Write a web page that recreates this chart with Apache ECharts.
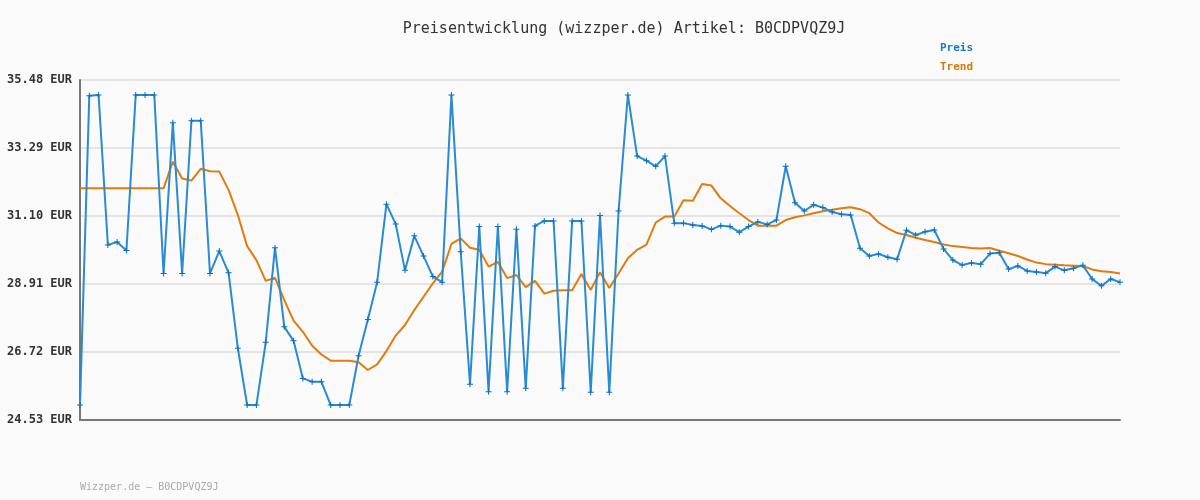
<!DOCTYPE html>
<html>
<head>
<meta charset="utf-8">
<script src="https://cdn.jsdelivr.net/npm/echarts@6/dist/echarts.min.js"></script>
<style>
  html, body { margin: 0; padding: 0; background: #fafafa; }
  #chart { width: 1200px; height: 500px; }
</style>
</head>
<body>
<div id="chart"></div>
<script>
// price per day (no dates shown on the axis)
const preis = [
    25.01, 34.97, 35.00, 30.17, 30.26, 29.99, 35.00, 35.00, 35.00, 29.25,
    34.10, 29.25, 34.17, 34.17, 29.25, 29.97, 29.27, 26.84, 25.01, 25.01,
    27.03, 30.08, 27.53, 27.08, 25.87, 25.76, 25.76, 25.01, 25.01, 25.01,
    26.60, 27.77, 28.97, 31.48, 30.84, 29.35, 30.46, 29.81, 29.15, 28.97,
    35.00, 29.95, 25.68, 30.76, 25.44, 30.76, 25.44, 30.67, 25.55, 30.78,
    30.94, 30.94, 25.55, 30.94, 30.94, 25.42, 31.12, 25.42, 31.26, 35.00,
    33.03, 32.88, 32.70, 33.03, 30.87, 30.87, 30.81, 30.78, 30.67, 30.79,
    30.76, 30.58, 30.76, 30.91, 30.83, 30.97, 32.70, 31.53, 31.26, 31.46,
    31.37, 31.23, 31.16, 31.13, 30.06, 29.81, 29.88, 29.77, 29.71, 30.64,
    30.49, 30.59, 30.65, 30.04, 29.68, 29.52, 29.59, 29.55, 29.89, 29.92,
    29.39, 29.49, 29.33, 29.30, 29.26, 29.47, 29.35, 29.42, 29.51, 29.07,
    28.85, 29.07, 28.97
];

const trend = [
    31.99, 31.99, 31.99, 31.99, 31.99, 31.99, 31.99, 31.99, 31.99, 31.99,
    32.85, 32.31, 32.24, 32.62, 32.54, 32.53, 31.94, 31.13, 30.13, 29.68,
    29.01, 29.11, 28.39, 27.73, 27.37, 26.92, 26.64, 26.44, 26.44, 26.44,
    26.39, 26.14, 26.32, 26.75, 27.25, 27.59, 28.07, 28.50, 28.93, 29.31,
    30.20, 30.38, 30.08, 30.01, 29.47, 29.62, 29.10, 29.20, 28.81, 29.01,
    28.60, 28.69, 28.71, 28.71, 29.23, 28.72, 29.29, 28.78, 29.25, 29.74,
    30.01, 30.18, 30.89, 31.08, 31.08, 31.61, 31.59, 32.13, 32.08, 31.67,
    31.42, 31.19, 30.97, 30.79, 30.79, 30.79, 30.97, 31.06, 31.12, 31.19,
    31.25, 31.30, 31.35, 31.38, 31.32, 31.19, 30.89, 30.70, 30.55, 30.49,
    30.40, 30.33, 30.26, 30.18, 30.13, 30.10, 30.07, 30.05, 30.07, 29.98,
    29.90, 29.81, 29.70, 29.60, 29.55, 29.53, 29.51, 29.50, 29.49, 29.38,
    29.32, 29.30, 29.25
];

const yTicks = [24.53, 26.72, 28.91, 31.10, 33.29, 35.48];

const categories = preis.map(function (v, i) { return i + 1; });

const mono = '"DejaVu Sans Mono", "Liberation Mono", monospace';
const blue = '#1a80cc';
const orange = '#e07b0c';
const plusPath = 'path://M5,0H7V5H12V7H7V12H5V7H0V5H5Z';

const chart = echarts.init(document.getElementById('chart'));
chart.setOption({
    backgroundColor: '#fafafa',
    animation: false,
    title: {
        text: 'Preisentwicklung (wizzper.de) Artikel: B0CDPVQZ9J',
        left: 619,
        textAlign: 'center',
        top: 17,
        textStyle: {
            fontFamily: mono,
            fontSize: 15,
            fontWeight: 'normal',
            color: '#333'
        }
    },
    legend: {
        orient: 'vertical',
        left: 935,
        top: 38,
        itemGap: 8,
        itemWidth: 0,
        itemHeight: 0,
        icon: 'rect',
        selectedMode: false,
        textStyle: { fontFamily: mono, fontSize: 11, fontWeight: 'bold', padding: [0, 0, 0, -5] },
        data: [
            { name: 'Preis', textStyle: { color: '#1a7cc4' } },
            { name: 'Trend', textStyle: { color: '#d97706' } }
        ]
    },
    grid: {
        left: 80,
        right: 80,
        top: 80,
        bottom: 80
    },
    xAxis: {
        type: 'category',
        data: categories,
        boundaryGap: false,
        axisLine: { lineStyle: { color: '#777', width: 2 } },
        axisTick: { show: false },
        axisLabel: { show: false },
        splitLine: { show: false }
    },
    yAxis: {
        type: 'value',
        min: 24.53,
        max: 35.48,
        axisLine: { show: true, lineStyle: { color: '#777', width: 2 } },
        axisTick: { show: false, customValues: yTicks },
        axisLabel: {
            customValues: yTicks,
            margin: 8,
            fontFamily: mono,
            fontSize: 12,
            fontWeight: 'bold',
            color: '#333',
            formatter: function (v) { return v.toFixed(2) + ' EUR'; }
        },
        splitLine: { show: true, lineStyle: { color: '#e4e4e4', width: 2 } }
    },
    series: [
        {
            name: 'Preis',
            type: 'line',
            data: preis,
            color: blue,
            lineStyle: { width: 2, color: '#2a8ad2' },
            symbol: plusPath,
            symbolSize: 6,
            itemStyle: { color: '#0a6fbf' },
            z: 3
        },
        {
            name: 'Trend',
            type: 'line',
            data: trend,
            color: orange,
            lineStyle: { width: 2, color: orange },
            symbol: 'none',
            z: 2
        }
    ],
    graphic: [
        {
            type: 'text',
            left: 80,
            top: 482,
            style: {
                text: 'Wizzper.de – B0CDPVQZ9J',
                fontFamily: mono,
                fontSize: 10,
                fill: '#aaa'
            }
        }
    ]
});
</script>
</body>
</html>
